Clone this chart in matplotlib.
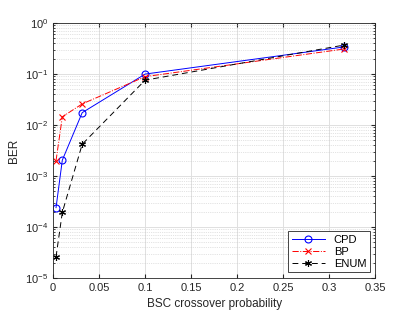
import matplotlib
matplotlib.use("Agg")
import matplotlib.pyplot as plt
from matplotlib.ticker import LogLocator, NullFormatter

plt.rcParams['font.family'] = ['Liberation Sans', 'DejaVu Sans']

p = [0.00316, 0.01, 0.0316, 0.1, 0.316]
cpd = [2.4e-4, 2.05e-3, 1.75e-2, 0.10, 0.34]
bp = [2.0e-3, 1.45e-2, 2.6e-2, 0.089, 0.31]
enum = [2.6e-5, 1.94e-4, 4.2e-3, 0.076, 0.37]

fig = plt.figure(figsize=(4.15, 3.12), dpi=100)
ax = fig.add_axes([0.128, 0.109, 0.776, 0.817])

ax.semilogy(p, cpd, '-', color='#0000ff', marker='o', mfc='none', ms=5, mew=0.8, lw=0.7, label='CPD')
ax.semilogy(p, bp, '-.', color='#ff0000', marker='x', ms=4, mew=0.8, lw=0.7, label='BP')
ax.semilogy(p, enum, '--', color='black', marker=(6, 2, 0), ms=5, mew=0.8, lw=0.7, dashes=(6, 4), label='ENUM')

ax.set_xlim(0, 0.35)
ax.set_ylim(1e-5, 1)
ax.set_xticks([0, 0.05, 0.1, 0.15, 0.2, 0.25, 0.3, 0.35])
ax.set_xticklabels(['0', '0.05', '0.1', '0.15', '0.2', '0.25', '0.3', '0.35'])
ax.yaxis.set_major_locator(LogLocator(base=10, numticks=10))
ax.yaxis.set_minor_locator(LogLocator(base=10, subs=range(2, 10), numticks=20))
ax.yaxis.set_minor_formatter(NullFormatter())

ax.grid(True, which='major', color='#e0e0e0', lw=0.7)
ax.grid(True, which='minor', axis='y', color='#c8c8c8', lw=0.5, ls=':')
ax.set_axisbelow(True)

ax.tick_params(which='both', direction='in', top=True, right=True, labelsize=8, colors='#262626')
ax.tick_params(which='major', length=3)
ax.tick_params(which='minor', length=1.5)
for s in ax.spines.values():
    s.set_color('#262626')
    s.set_linewidth(0.6)

ax.set_xlabel('BSC crossover probability', fontsize=8.5, color='#262626')
ax.set_ylabel('BER', fontsize=8.5, color='#262626')

leg = ax.legend(loc='lower right', fontsize=8, fancybox=False, edgecolor='#262626',
                framealpha=1, handlelength=3, borderpad=0.3, labelspacing=0.2)
leg.get_frame().set_linewidth(0.6)

fig.savefig('out.png', dpi=100)
